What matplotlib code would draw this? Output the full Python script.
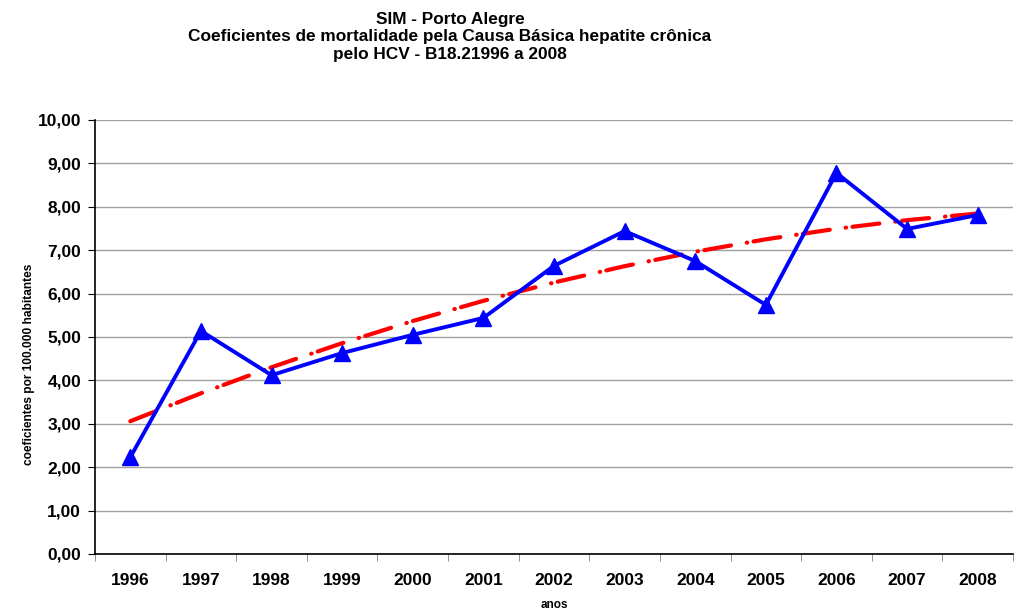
import numpy as np
import matplotlib
matplotlib.use("Agg")
import matplotlib.pyplot as plt
from matplotlib.ticker import FuncFormatter

plt.rcParams["font.family"] = ["Liberation Sans", "DejaVu Sans"]
plt.rcParams["font.weight"] = "bold"

anos = ["1996", "1997", "1998", "1999", "2000", "2001", "2002",
        "2003", "2004", "2005", "2006", "2007", "2008"]
coef = [2.23, 5.14, 4.12, 4.63, 5.05, 5.44, 6.64,
        7.44, 6.75, 5.74, 8.78, 7.49, 7.81]

x = np.arange(len(anos))
# tendência polinomial (ordem 2), como no Excel
p = np.polyfit(x, coef, 2)
trend = np.polyval(p, x)

fig = plt.figure(figsize=(10.23, 6.15), dpi=100)
ax = fig.add_axes([95 / 1023, 1 - 554 / 615, 918 / 1023, 434 / 615])

ax.plot(x, trend, color="#ff0000", lw=3.0, dashes=(6.5, 3.85, 0.1, 1.55),
        dash_capstyle="round", zorder=3)
ax.plot(x, coef, color="#0000ff", lw=2.8, marker="^", ms=11.5,
        markerfacecolor="#0000ff", markeredgecolor="#0000ff", zorder=4)

ax.set_xlim(-0.5, len(anos) - 0.5)
ax.set_ylim(0, 10)
ax.set_yticks(np.arange(0, 10.01, 1))
ax.yaxis.set_major_formatter(FuncFormatter(lambda v, _: f"{v:.2f}".replace(".", ",")))
ax.set_xticks(x)
ax.set_xticklabels(anos)
ax.set_xticks(np.arange(-0.5, len(anos), 1), minor=True)
ax.tick_params(axis="x", which="major", length=0, pad=14, labelsize=12.5)
ax.tick_params(axis="x", which="minor", length=5, direction="out", color="#808080")
ax.tick_params(axis="y", length=5, direction="out", labelsize=12.5, pad=5)
for lbl in ax.get_xticklabels() + ax.get_yticklabels():
    lbl.set_fontweight("bold")

ax.grid(axis="y", color="#a0a0a0", lw=1)
ax.set_axisbelow(True)
for s in ("top", "right"):
    ax.spines[s].set_visible(False)
for s in ("left", "bottom"):
    ax.spines[s].set_color("black")
    ax.spines[s].set_linewidth(1.2)

ax.set_xlabel("anos", fontsize=8.5, fontweight="bold")
ax.xaxis.set_label_coords(0.5, -(599 - 554) / 434)
ax.set_ylabel("coeficientes por 100.000 habitantes", fontsize=8.6, fontweight="bold")
ax.yaxis.set_label_coords(-(95 - 35) / 918, (554 - 364) / 434)

fig.text(450 / 1023, 1 - 37 / 615,
         "SIM - Porto Alegre\nCoeficientes de mortalidade pela Causa Básica hepatite crônica\npelo HCV - B18.21996 a 2008",
         ha="center", va="center", fontsize=12.4, fontweight="bold", linespacing=1.2)

fig.savefig("out.png", dpi=100)
